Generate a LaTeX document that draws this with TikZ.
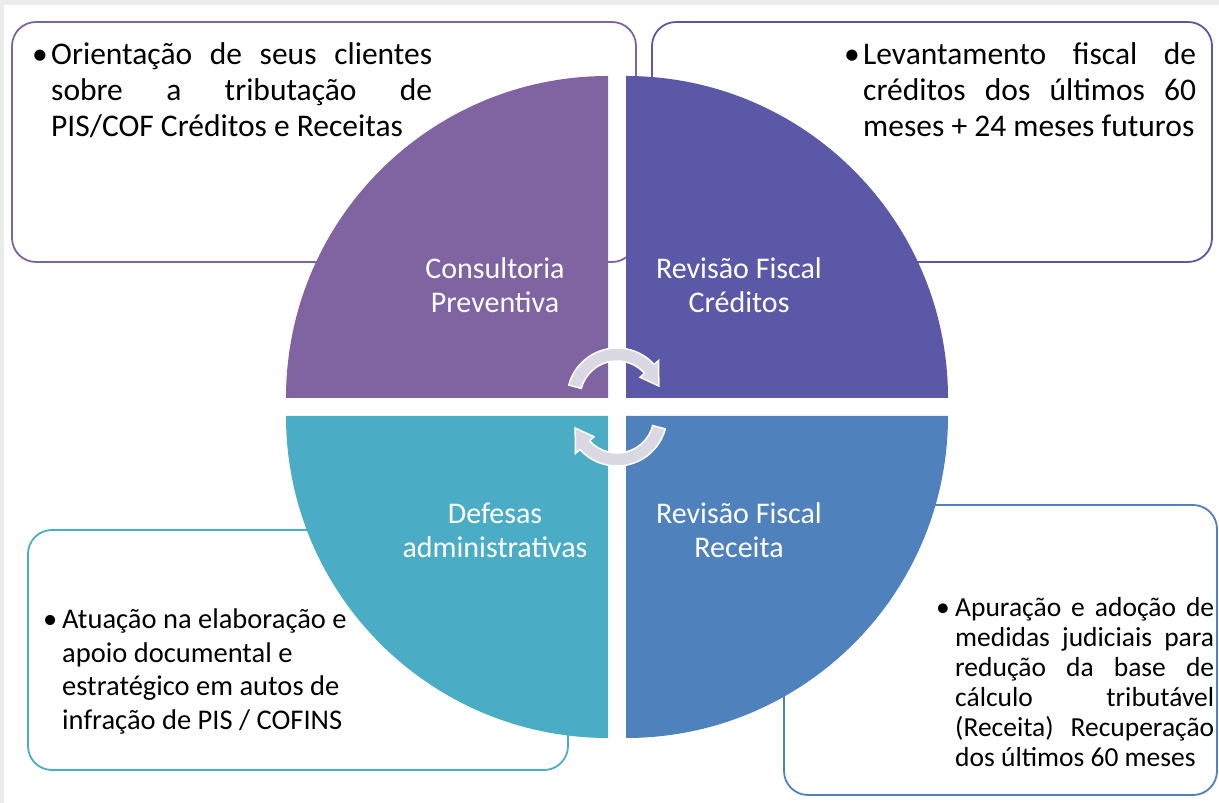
\documentclass[tikz,border=0pt]{standalone}
\usepackage{fontspec}
\setmainfont{Carlito}

\definecolor{consul}{HTML}{8064A2}
\definecolor{credito}{HTML}{5B58A8}
\definecolor{defesa}{HTML}{4BACC6}
\definecolor{receita}{HTML}{4F81BD}
\definecolor{ciclo}{HTML}{DAD8E2}
\definecolor{moldura}{HTML}{ECECEC}

\tikzset{
  caixa/.style={line width=1.8pt, rounded corners=24pt},
  rotulo/.style={text=white, align=center, font=\fontsize{30}{34}\selectfont},
  item/.style={anchor=north west, inner sep=0pt, align=justify},
  seta/.style={fill=ciclo, draw=white, line width=1.5pt},
}

\newcommand{\topico}[1]{\tolerance=10000\hyphenpenalty=10000%
  \hangindent=19pt\hangafter=1\noindent\makebox[19pt][l]{\textbullet}#1\par}

\begin{document}
\begin{tikzpicture}[x=1pt,y=1pt]
            \useasboundingbox (0,0) rectangle (1219,803);
            \fill[moldura] (0,0) rectangle (1219,803);
            \fill[white] (4,0) rectangle (1219,798);

            % caixas de texto
            \draw[caixa, draw=consul] (12,541) rectangle (636,781);
            \draw[caixa, draw=credito] (652,541) rectangle (1212,781);
            \draw[caixa, draw=defesa] (28,33) rectangle (568,273);
            \draw[caixa, draw=receita] (784,8) rectangle (1217,298);

            % quadrantes
            \fill[consul] (608,405) -- ++(-322,0) arc[start angle=180, end angle=90, radius=322] -- cycle;
            \fill[credito] (626,405) -- ++(0,322) arc[start angle=90, end angle=0, radius=322] -- cycle;
            \fill[defesa] (608,387) -- ++(0,-322) arc[start angle=270, end angle=180, radius=322] -- cycle;
            \fill[receita] (626,387) -- ++(322,0) arc[start angle=0, end angle=-90, radius=322] -- cycle;

            % setas do ciclo
            \path[seta, shift={(617,405)}] (165:50) arc[start angle=165, end angle=42, radius=50]
                -- (42:56) -- (16:43.5) -- (42:31) -- (42:37) arc[start angle=42, end angle=165, radius=37] -- cycle;
            \path[seta, shift={(617,387)}, rotate=180] (165:50) arc[start angle=165, end angle=42, radius=50]
                -- (42:56) -- (16:43.5) -- (42:31) -- (42:37) arc[start angle=42, end angle=165, radius=37] -- cycle;

            \node[rotulo] (consultoria) at (495,518) {Consultoria\\Preventiva};
            \node[rotulo] (creditos) at (739,518) {Revisão Fiscal\\Créditos};
            \node[rotulo] (defesas) at (495,273) {Defesas\\administrativas};
            \node[rotulo] (receitas) at (739,273) {Revisão Fiscal\\Receita};

            \node[item, text width=400pt, font=\fontsize{31.5}{36}\selectfont] (txtConsul) at (32,761)
                {\topico{Orientação de seus clientes\linebreak sobre a tributação de\linebreak PIS/COF Créditos e Receitas}};
            \node[item, text width=352pt, font=\fontsize{31.5}{36}\selectfont] (txtCredito) at (844,761)
                {\topico{Levantamento fiscal de\linebreak créditos dos últimos 60\linebreak meses + 24 meses futuros}};
            \node[item, text width=330pt, font=\fontsize{28.5}{33.5}\selectfont] (txtDefesa) at (43,194)
                {\topico{Atuação na elaboração e\newline apoio documental e\newline estratégico em autos de\newline infração de PIS / COFINS}};
            \node[item, text width=278pt, font=\fontsize{27.5}{30}\selectfont] (txtReceita) at (936,206)
                {\topico{Apuração e adoção de\linebreak medidas judiciais para\linebreak redução da base de\linebreak cálculo tributável\linebreak (Receita) Recuperação\linebreak dos últimos 60 meses}};
\end{tikzpicture}
\end{document}
